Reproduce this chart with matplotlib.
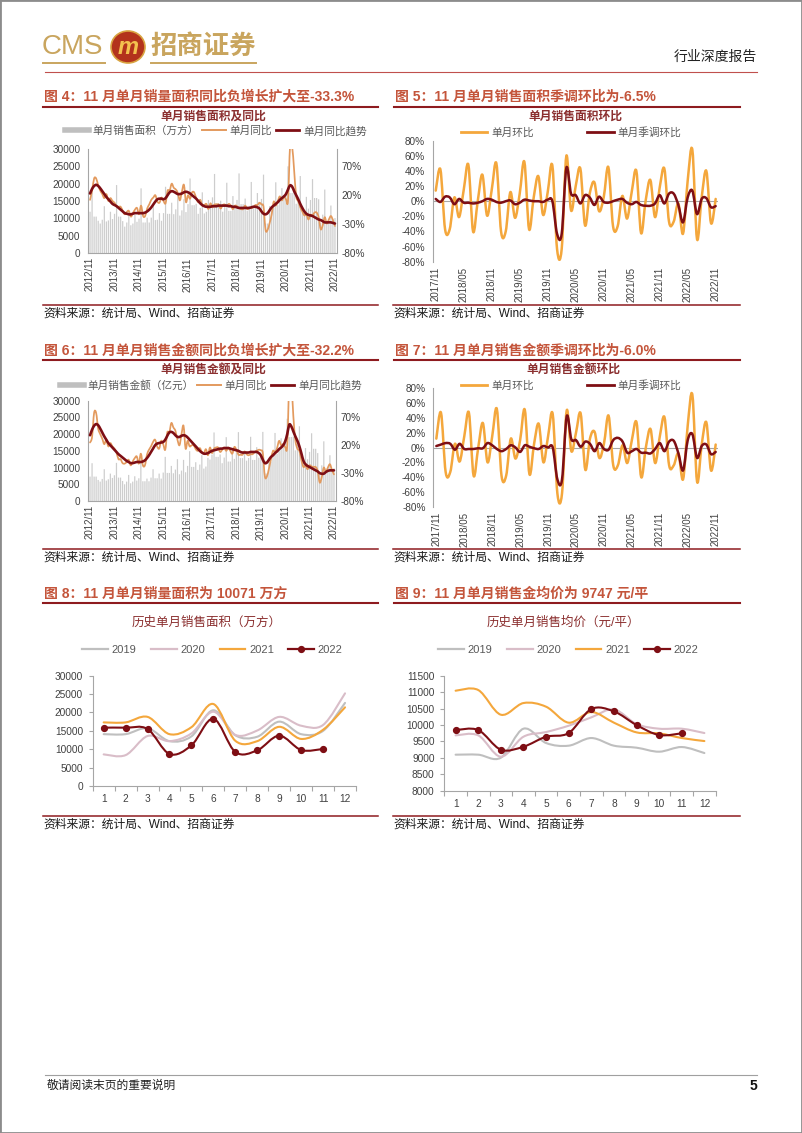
import numpy as np
import matplotlib
matplotlib.use("Agg")
import matplotlib.pyplot as plt
from matplotlib.path import Path
from matplotlib.patches import PathPatch, Ellipse, Rectangle
from matplotlib.lines import Line2D

plt.rcParams['font.family'] = ['Liberation Sans', 'Noto Sans CJK SC']
plt.rcParams['axes.unicode_minus'] = False

# ---------------- DATA ----------------
# Fig 4 / Fig 6 : monthly, 2012/11 .. 2022/11 (121 months)
ticks_long = ['2012/11', '2013/11', '2014/11', '2015/11', '2016/11', '2017/11',
              '2018/11', '2019/11', '2020/11', '2021/11', '2022/11']

area_bar = [11900, 17700,
            10500, 10500, 9300, 8500, 9600, 13500, 9100, 9400, 11900, 9800, 11300, 19600,
            10500, 10500, 9200, 7600, 8800, 11800, 8000, 8500, 11000, 9000, 9900, 18650,
            8800, 8800, 10200, 8800, 10200, 13500, 9500, 9600, 11500, 9300, 11500, 19100,
            11300, 11300, 14500, 11200, 12600, 16800, 10800, 12300, 15500, 11800, 14100, 21500,
            13800, 13800, 14200, 11300, 13000, 17500, 11400, 11900, 15300, 14090, 16060, 22800,
            14360, 14360, 15080, 11910, 13700, 20270, 12160, 12160, 16420, 13300, 15300, 22950,
            14100, 14100, 15700, 12200, 13600, 20500, 12800, 13100, 17300, 14100, 15600, 22600,
            8500, 8500, 13500, 12200, 14300, 20400, 13800, 15100, 18700, 16300, 17400, 25000,
            17300, 17300, 18700, 14200, 16000, 22200, 12300, 12400, 16200, 12800, 15300, 21300,
            15860, 15860, 15500, 8700, 11060, 18300, 9240, 9700, 13690, 9790, 10071]

area_yoy = [12, 28,
            49, 49, 37, 28, 22, 15, 22, 10, 15, 10, 7, 1,
            0, 0, -7, -13, -9, -7, -17, -11, -5, -2, -13, 2,
            -16, -16, -3, 4, 12, 16, 20, 9, 7, 16, 10, 6,
            28, 28, 40, 33, 30, 24, 11, 26, 38, 8, 20, 14,
            25, 25, 15, 8, 12, 2, 3, 5, -4, 6, -1, 4,
            4, 4, -3, 3, 4, 1, 5, 2, -4, 2, 1, -2,
            -4, -4, 2, -4, -2, -2, -1, 3, 3, 7, 4, 0,
            -40, -40, -28, -13, 9, 2, 10, 18, 11, 18, 13, 11,
            105, 105, 63, 18, 10, -1, -8, -15, -13, -22, -14, -15,
            -10, -10, -18, -39, -32, -18, -29, -22, -16, -23, -33.3]

area_trend = [23, 31,
              36, 38, 36, 32, 27, 22, 17, 13, 9, 5, 3, 1,
              -2, -5, -8, -11, -12, -13, -13, -12, -11, -11, -11, -11,
              -11, -10, -8, -5, -1, 4, 9, 13, 14, 14, 13, 15,
              20, 25, 27, 26, 24, 22, 22, 23, 25, 26, 25, 23,
              20, 17, 14, 10, 6, 3, 1, 0, 0, 0, 1, 1,
              1, 2, 2, 2, 2, 2, 1, 1, 0, 0, -1, -2,
              -2, -2, -2, -2, -2, -1, 0, 0, -1, -3, -8, -12,
              -13, -11, -6, -1, 2, 5, 8, 12, 15, 18, 22, 30,
              37, 35, 27, 20, 13, 5, -2, -8, -12, -14, -15, -16,
              -18, -20, -22, -23, -25, -27, -27, -27, -27, -28, -29]

value_bar = [7300, 11300,
             7300, 7300, 6300, 5800, 6600, 9500, 6100, 6500, 8200, 6900, 7700, 11400,
             7000, 7000, 6000, 5000, 5800, 7800, 5300, 5800, 7400, 6100, 6800, 12000,
             5900, 5900, 6700, 5900, 7000, 9500, 6800, 6800, 8200, 6700, 8500, 13200,
             8400, 8400, 10500, 8300, 9400, 12500, 8000, 9100, 12300, 8600, 10500, 14900,
             10200, 10200, 11600, 9300, 10900, 13700, 9700, 10300, 12900, 12400, 13900, 20500,
             13200, 13200, 13900, 11300, 13000, 19100, 11800, 11800, 15700, 12600, 14500, 20600,
             12825, 12825, 14136, 12062, 12853, 19209, 12292, 12275, 16105, 12954, 14553, 20670,
             8231, 8231, 12197, 11764, 13993, 20355, 14120, 15817, 18754, 16116, 17200, 24600,
             19104, 19141, 19285, 15149, 16890, 22355, 12785, 12487, 15836, 12474, 14693, 20258,
             15616, 15616, 14334, 8125, 10665, 17852, 9688, 10102, 13687, 9490, 9816]

value_yoy = [25, 35,
             78, 78, 50, 40, 32, 22, 30, 18, 24, 18, 14, 7,
             -5, -5, -12, -13, -10, -6, -16, -9, -3, 0, -13, 5,
             -16, -16, 3, 12, 18, 26, 30, 18, 14, 28, 22, 12,
             43, 43, 60, 52, 46, 30, 20, 40, 55, 14, 28, 18,
             20, 20, 13, 10, 15, 8, 6, 13, 2, 16, 6, 14,
             16, 16, 8, 12, 16, 10, 16, 10, 5, 17, 12, 3,
             3, 3, 9, 4, 2, 4, 4, 8, 10, 12, 11, 6,
             -36, -36, -22, -5, 10, 8, 15, 28, 20, 22, 17, 19,
             133, 133, 73, 29, 14, 10, -7, -19, -16, -23, -16, -18,
             -19, -19, -26, -47, -37, -20, -28, -20, -14, -24, -32.2]

value_trend = [38, 48,
               55, 58, 56, 50, 43, 36, 30, 24, 20, 16, 12, 8,
               4, 1, -2, -5, -8, -10, -12, -12, -11, -10, -10, -10,
               -9, -7, -3, 2, 8, 14, 20, 23, 24, 25, 26, 30,
               37, 43, 44, 42, 38, 35, 35, 37, 38, 37, 34, 30,
               26, 22, 18, 14, 10, 7, 5, 5, 6, 8, 10, 11,
               12, 13, 14, 14, 15, 15, 15, 14, 13, 12, 11, 10,
               8, 7, 7, 7, 7, 8, 8, 8, 8, 6, 2, -6,
               -12, -11, -6, -1, 2, 6, 9, 13, 16, 20, 27, 40,
               57, 54, 45, 36, 28, 18, 5, -8, -14, -17, -19, -21,
               -23, -25, -27, -30, -31, -31, -28, -26, -25, -25, -25]

# Fig 5 / Fig 7 : monthly, 2017/11 .. 2022/11 (61 months)
ticks_short = ['2017/11', '2018/05', '2018/11', '2019/05', '2019/11', '2020/05',
               '2020/11', '2021/05', '2021/11', '2022/05', '2022/11']

mom_area = [14, 42,
            -37, -37, 5, -21, 15, 48, -40, 0, 35, -19, 15, 50,
            -40, -40, 12, -22, 10, 52, -37, 5, 33, -18, 12, 47,
            -63, -63, 60, -12, 20, 43, -32, 10, 25, -13, 5, 45,
            -33, -33, 7, -23, 12, 40, -42, 1, 28, -21, 18, 43,
            -27, -27, -3, -43, 27, 68, -50, 5, 40, -29, 3]
sa_area = [3, -1,
           6, 5, -4, 3, -2, -2, -3, -2, 0, 3, 2, -1,
           -2, 0, 1, -4, -2, 2, 1, 0, 0, -1, 2, 0,
           -43, -43, 44, 10, 8, -3, 8, 5, -5, 6, -1, -2,
           0, 2, 3, -2, -4, -1, -5, -6, -6, -3, 8, -3,
           10, 10, -5, -28, 5, 14, -17, 3, 4, -8, -6.5]
mom_value = [12, 47,
             -33, -33, 5, -19, 15, 47, -38, 0, 33, -20, 15, 52,
             -38, -38, 12, -15, 10, 51, -36, 5, 32, -20, 15, 45,
             -62, -62, 50, -5, 20, 46, -30, 12, 21, -14, 5, 43,
             -24, -24, 3, -21, 10, 34, -40, 0, 25, -21, 15, 41,
             -24, -24, -8, -43, 30, 71, -46, 4, 34, -31, 4]
sa_value = [2, 4,
            6, 5, -3, 5, -2, -2, -2, -1, -1, 6, 3, -2,
            -5, -2, 3, 0, -6, 3, 1, -1, -2, 2, 0, 0,
            -43, -43, 42, 11, 10, 1, 8, 5, -5, 6, -2, -3,
            10, 13, 8, -7, -5, -2, -7, -7, -8, -2, 6, -5,
            8, 9, -8, -31, 10, 18, -14, 2, 4, -9, -6]

# Fig 8 / Fig 9 : by calendar month
months = list(range(1, 13))
years = ['2019', '2020', '2021', '2022']
area_2019 = [14100, 14100, 15700, 12200, 13500, 20600, 13800, 13400, 17500, 14100, 15000, 22600]
area_2020 = [8600, 8400, 13600, 12200, 14300, 20200, 13900, 15100, 18800, 16400, 16600, 25200]
area_2021 = [17300, 17300, 18800, 14100, 16000, 22300, 12300, 12200, 16100, 12800, 15300, 21400]
area_2022 = [15860, 15860, 15500, 8700, 11060, 18300, 9240, 9700, 13690, 9790, 10071]
price_2019 = [9096, 9096, 9004, 9887, 9451, 9370, 9603, 9370, 9309, 9187, 9329, 9146]
price_2020 = [9684, 9684, 9035, 9643, 9785, 9978, 10232, 10475, 10029, 9887, 9887, 9755]
price_2021 = [11043, 11064, 10313, 10668, 10556, 10070, 10394, 10070, 9775, 9745, 9603, 9511]
price_2022 = [9846, 9846, 9248, 9339, 9643, 9755, 10485, 10414, 9998, 9694, 9747]

# ---------------- STYLE ----------------
W, H = 802, 1133
C_TITLE = '#C4553B'
C_RULE = '#8E1B1F'
C_CHART_T = '#8B2F2F'
C_TICK = '#404040'
C_LEG = '#595959'
C_AXIS = '#A6A6A6'
C_BAR = '#CDCDCD'
C_YOY = '#E39A5E'
C_DARK = '#7E0E14'
C_ORANGE = '#F4A73C'
C_Y19 = '#BFBFBF'
C_Y20 = '#D9BDC8'
C_GOLD = '#C9A55E'

fig = plt.figure(figsize=(W / 100, H / 100), dpi=100)


def fx(x):
    return x / W


def fy(y):
    return 1 - y / H


def add_ax(x0, y0, x1, y1):
    return fig.add_axes([fx(x0), fy(y1), (x1 - x0) / W, (y1 - y0) / H])


def hline(x0, x1, y, color, lw):
    fig.add_artist(Line2D([fx(x0), fx(x1)], [fy(y), fy(y)], color=color, lw=lw,
                          transform=fig.transFigure))


def ftext(x, y, s, **kw):
    kw.setdefault('va', 'center')
    fig.text(fx(x), fy(y), s, **kw)


def smooth_path(x, y):
    p = np.column_stack([np.asarray(x, float), np.asarray(y, float)])
    n = len(p)
    verts = [p[0]]
    codes = [Path.MOVETO]
    for i in range(n - 1):
        p0 = p[i - 1] if i > 0 else p[i]
        p1, p2 = p[i], p[i + 1]
        p3 = p[i + 2] if i + 2 < n else p[i + 1]
        verts += [p1 + (p2 - p0) / 6.0, p2 - (p3 - p1) / 6.0, p2]
        codes += [Path.CURVE4] * 3
    return Path(np.array(verts), codes)


def smooth_line(ax, x, y, color, lw, z=3):
    ax.add_patch(PathPatch(smooth_path(x, y), facecolor='none', edgecolor=color,
                           lw=lw, zorder=z, joinstyle='round', capstyle='round'))


def legend(handles, labels, cx, cy, ncol, hl, cs, fs=7.7):
    fig.legend(handles, labels, loc='center', bbox_to_anchor=(fx(cx), fy(cy)),
               ncol=ncol, frameon=False, fontsize=fs, handlelength=hl,
               handletextpad=0.35, columnspacing=cs, labelcolor=C_LEG,
               borderaxespad=0, borderpad=0)


# ---------------- PAGE ----------------
fig.add_artist(Rectangle((0, 0), 1, 1, transform=fig.transFigure, fill=False,
                         edgecolor='#8C8C8C', lw=2))
ftext(42, 47, 'CMS', fontsize=20, color=C_GOLD, ha='left')
hline(43, 105, 63, C_GOLD, 1.4)
fig.add_artist(Ellipse((fx(128), fy(47)), 34 / W, 32 / H, transform=fig.transFigure,
                       facecolor='#B3331C', edgecolor='#D9A441', lw=1.2))
ftext(128, 47, 'm', fontsize=17, color='#F3C24E', ha='center', weight='bold', style='italic')
ftext(150, 46, '招商证券', fontsize=19, color=C_GOLD, ha='left', weight='bold')
hline(151, 256, 63, C_GOLD, 1.4)
ftext(757, 57, '行业深度报告', fontsize=10, color='#222222', ha='right')
hline(45, 757, 72, '#C0504D', 0.8)

hline(45, 757, 1075, '#A0A0A0', 0.8)
ftext(47, 1086, '敬请阅读末页的重要说明', fontsize=8.5, color='#222222', ha='left')
ftext(757, 1086, '5', fontsize=10, color='#111111', ha='right', weight='bold')

SRC = '资料来源：统计局、Wind、招商证券'


def fig_title(x0, x1, y, s):
    ftext(x0 + 1, y, s, fontsize=10, color=C_TITLE, ha='left', weight='bold')
    hline(x0, x1, y + 9.5, C_RULE, 1.5)


def source(x0, x1, y):
    hline(x0, x1, y, C_RULE, 1.1)
    ftext(x0, y + 9, SRC, fontsize=8.5, color='#1A1A1A', ha='left')


fig_title(43, 378, 97, '图 4：11 月单月销量面积同比负增长扩大至-33.3%')
fig_title(394, 740, 97, '图 5：11 月单月销售面积季调环比为-6.5%')
fig_title(43, 378, 350.5, '图 6：11 月单月销售金额同比负增长扩大至-32.2%')
fig_title(394, 740, 350.5, '图 7：11 月单月销售金额季调环比为-6.0%')
fig_title(43, 378, 594, '图 8：11 月单月销量面积为 10071 万方')
fig_title(394, 740, 594, '图 9：11 月单月销售金均价为 9747 元/平')
source(43, 378, 304.5)
source(393, 740, 304.5)
source(43, 378, 548.5)
source(393, 740, 548.5)
source(43, 378, 815.5)
source(393, 740, 815.5)


# ---------------- BAR + YOY CHARTS ----------------
def bar_yoy_chart(box, bars, yoy, trend, title, tcx, tcy, leg_label, lcx, lcy):
    ax = add_ax(*box)
    idx = np.arange(len(bars))
    ax.bar(idx, bars, width=0.6, color=C_BAR, linewidth=0, snap=False, zorder=1)
    ax.set_xlim(-1, len(bars))
    ax.set_ylim(0, 30000)
    ax.set_yticks(range(0, 30001, 5000))
    ax.set_yticklabels([str(v) for v in range(0, 30001, 5000)])
    ax.set_xticks(idx[::12])
    ax.set_xticklabels(ticks_long, rotation=90)
    ax.tick_params(axis='y', length=0, pad=5.5, labelsize=7.2, labelcolor=C_TICK)
    ax.tick_params(axis='x', length=0, pad=3, labelsize=7, labelcolor=C_TICK)
    for s in ['top', 'right']:
        ax.spines[s].set_visible(False)
    for s in ['left', 'bottom']:
        ax.spines[s].set_color(C_AXIS)
        ax.spines[s].set_linewidth(0.8)
    ax2 = ax.twinx()
    ax2.set_ylim(-80, 100)
    rt = [-80, -30, 20, 70]
    ax2.set_yticks(rt)
    ax2.set_yticklabels([f'{v}%' for v in rt])
    ax2.tick_params(axis='y', length=0, pad=3.5, labelsize=7.2, labelcolor=C_TICK)
    for s in ['top', 'left', 'bottom']:
        ax2.spines[s].set_visible(False)
    ax2.spines['right'].set_color(C_AXIS)
    ax2.spines['right'].set_linewidth(0.8)
    smooth_line(ax2, idx, yoy, C_YOY, 1.25)
    smooth_line(ax2, idx, trend, C_DARK, 1.9, z=4)
    ax2.set_xlim(-1, len(bars))
    ftext(tcx, tcy, title, fontsize=8.5, color=C_CHART_T, ha='center', weight='bold')
    hs = [Line2D([], [], color='#BFBFBF', lw=4),
          Line2D([], [], color=C_YOY, lw=1.4),
          Line2D([], [], color=C_DARK, lw=2)]
    legend(hs, [leg_label, '单月同比', '单月同比趋势'], lcx, lcy, 3, 2.2, 0.35)


bar_yoy_chart((88, 149, 337, 253), area_bar, area_yoy, area_trend,
              '单月销售面积及同比', 213, 117, '单月销售面积（万方）', 216, 131)
bar_yoy_chart((88, 400.7, 336, 501), value_bar, value_yoy, value_trend,
              '单月销售金额及同比', 213, 370, '单月销售金额（亿元）', 211, 385.5)


# ---------------- MOM CHARTS ----------------
def mom_chart(box, mom, sa, title, tcx, tcy, lcx, lcy):
    ax = add_ax(*box)
    idx = np.arange(len(mom))
    ax.set_xlim(-0.65, 60.5)
    ax.set_ylim(-80, 80)
    yt = list(range(-80, 81, 20))
    ax.set_yticks(yt)
    ax.set_yticklabels([f'{v}%' for v in yt])
    ax.set_xticks(idx[::6])
    ax.set_xticklabels(ticks_short, rotation=90)
    ax.tick_params(axis='y', length=0, pad=5.5, labelsize=7.2, labelcolor=C_TICK)
    ax.tick_params(axis='x', length=0, pad=3.5, labelsize=7, labelcolor=C_TICK)
    for s in ['top', 'right', 'bottom']:
        ax.spines[s].set_visible(False)
    ax.spines['left'].set_color(C_AXIS)
    ax.spines['left'].set_linewidth(0.8)
    ax.axhline(0, color=C_AXIS, lw=0.8, zorder=1)
    smooth_line(ax, idx, mom, C_ORANGE, 1.8)
    smooth_line(ax, idx, sa, C_DARK, 1.8, z=4)
    ftext(tcx, tcy, title, fontsize=8.5, color=C_CHART_T, ha='center', weight='bold')
    hs = [Line2D([], [], color=C_ORANGE, lw=2), Line2D([], [], color=C_DARK, lw=2)]
    legend(hs, ['单月环比', '单月季调环比'], lcx, lcy, 2, 2.5, 5)


mom_chart((432.7, 140.7, 718, 261.7), mom_area, sa_area, '单月销售面积环比', 575, 116.7, 571, 132.5)
mom_chart((433.3, 388.3, 718, 506.7), mom_value, sa_value, '单月销售金额环比', 573, 370, 571, 385.5)


# ---------------- YEAR COMPARISON CHARTS ----------------
def year_chart(box, series, ylim, ystep, title, tcx, tcy, lcx, lcy):
    ax = add_ax(*box)
    cols = [C_Y19, C_Y20, C_ORANGE, C_DARK]
    for vals, c, z in zip(series, cols, [2, 2, 3, 4]):
        m = months[:len(vals)]
        smooth_line(ax, m, vals, c, 1.5, z=z)
    ax.plot(months[:len(series[3])], series[3], 'o', ms=4.2, color=C_DARK, zorder=5)
    ax.set_xlim(0.5, 12.5)
    ax.set_ylim(*ylim)
    yt = list(range(ylim[0], ylim[1] + 1, ystep))
    ax.set_yticks(yt)
    ax.set_yticklabels([str(v) for v in yt])
    ax.set_xticks(months)
    ax.set_xticklabels([str(m) for m in months])
    ax.set_xticks(np.arange(0.5, 12.6, 1), minor=True)
    ax.tick_params(axis='x', which='major', length=0, pad=6, labelsize=7.3, labelcolor=C_TICK)
    ax.tick_params(axis='x', which='minor', length=3.5, color=C_AXIS, width=0.8)
    ax.tick_params(axis='y', length=3, color=C_AXIS, width=0.8, pad=4, labelsize=7.3,
                   labelcolor=C_TICK)
    for s in ['top', 'right']:
        ax.spines[s].set_visible(False)
    for s in ['left', 'bottom']:
        ax.spines[s].set_color(C_AXIS)
        ax.spines[s].set_linewidth(0.8)
    ftext(tcx, tcy, title, fontsize=9, color=C_CHART_T, ha='center')
    hs = [Line2D([], [], color=c, lw=1.6) for c in cols[:3]]
    hs.append(Line2D([], [], color=C_DARK, lw=1.6, marker='o', ms=4.2))
    legend(hs, years, lcx, lcy, 4, 2.3, 1.3, fs=8)


year_chart((92.7, 675.7, 356, 786), [area_2019, area_2020, area_2021, area_2022],
           (0, 30000), 5000, '历史单月销售面积（万方）', 207, 622.7, 212.5, 650)
year_chart((444.3, 675.7, 715.7, 790.7), [price_2019, price_2020, price_2021, price_2022],
           (8000, 11500), 500, '历史单月销售均价（元/平）', 563, 623, 568.5, 650)

fig.savefig('out.png', dpi=100)
